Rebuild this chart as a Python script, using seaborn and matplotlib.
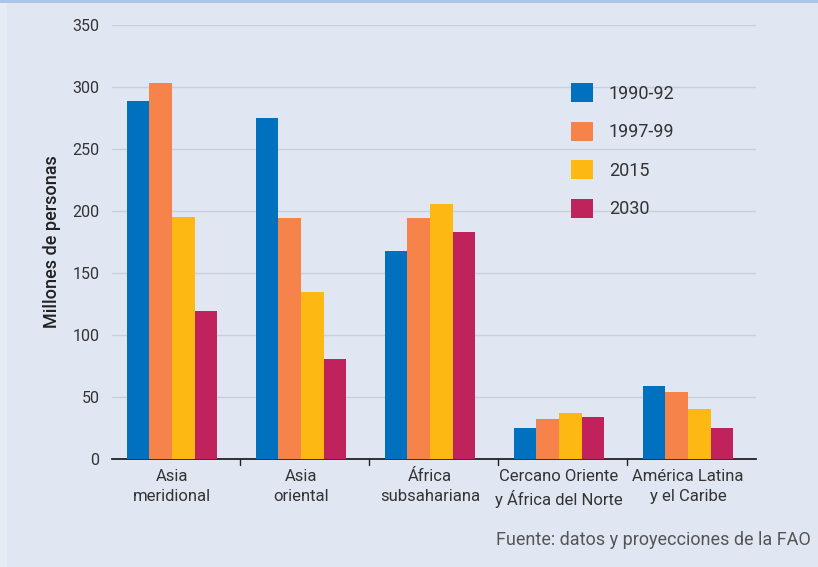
import matplotlib
matplotlib.use("Agg")
import matplotlib.pyplot as plt
import seaborn as sns
import pandas as pd
from matplotlib.patches import Rectangle, Patch

regions = ["Asia\nmeridional", "Asia\noriental", "África\nsubsahariana",
           "Cercano Oriente\ny África del Norte", "América Latina\ny el Caribe"]
periods = ["1990-92", "1997-99", "2015", "2030"]
v_1990 = [289, 275, 168, 25, 59]
v_1997 = [303, 194, 194, 32, 54]
v_2015 = [195, 135, 206, 37, 40]
v_2030 = [119, 81, 183, 34, 25]
colors = ["#0071bf", "#f5834a", "#fdb813", "#c0225c"]
yticks = [0, 50, 100, 150, 200, 250, 300, 350]

rows = []
for p, vals in zip(periods, [v_1990, v_1997, v_2015, v_2030]):
    for r, v in zip(regions, vals):
        rows.append({"region": r, "period": p, "value": v})
df = pd.DataFrame(rows)

sns.set_theme(style="white")
plt.rcParams["font.family"] = ["Roboto", "DejaVu Sans"]

bg = "#e0e7f3"
fig = plt.figure(figsize=(8.18, 5.67), dpi=100, facecolor=bg)
W, H = 818, 567
ax = fig.add_axes([112 / W, (H - 459) / H, (756 - 112) / W, (459 - 25) / H])
ax.set_facecolor(bg)

sns.barplot(data=df, x="region", y="value", hue="period", order=regions,
            hue_order=periods, palette=colors, width=0.705, gap=0,
            saturation=1, ax=ax, legend=False, zorder=3)
for p in ax.patches:
    p.set_edgecolor("none")
    p.set_linewidth(0)

ax.set_ylim(0, 350)
ax.set_xlim(-0.465, 4.527)
ax.set_yticks(yticks)
ax.yaxis.grid(True, color="#c9d0db", linewidth=1, zorder=0)
ax.set_axisbelow(True)
for s in ["top", "right", "left"]:
    ax.spines[s].set_visible(False)
ax.spines["bottom"].set_color("#222222")
ax.spines["bottom"].set_linewidth(1.3)
ax.tick_params(axis="y", length=6, color="#c9d0db", labelsize=11.5,
               labelcolor="#333333", pad=3)
ax.set_xticks(range(len(regions)))
ax.set_xticklabels(regions, fontsize=12, color="#333333", linespacing=1.42)
ax.tick_params(axis="x", length=0, pad=7)
for xb in [0.53, 1.53, 2.53, 3.53]:
    ax.plot([xb, xb], [0, -5], color="#222222", lw=1, clip_on=False,
            transform=ax.transData)
ax.set_xlabel("")
ax.set_ylabel("Millones de personas", fontsize=13, color="#222222",
              fontweight="medium", labelpad=8)

handles = [Patch(facecolor=c, edgecolor="none") for c in colors]
leg = ax.legend(handles, periods, loc="upper left",
                bbox_to_anchor=((555 - 112) / (756 - 112), (459 - 67) / 434),
                frameon=False, fontsize=13, handlelength=1.22, handleheight=1.22,
                labelspacing=1.06, handletextpad=0.85, labelcolor="#333333")

fig.text(811 / W, 1 - 540 / H, "Fuente: datos y proyecciones de la FAO",
         ha="right", va="center", fontsize=13, color="#555555")

fig.patches.append(Rectangle((0, 1 - 3 / H), 1, 3 / H, transform=fig.transFigure,
                             facecolor="#a9c5e8", edgecolor="none", zorder=5))
fig.patches.append(Rectangle((0, 0), 7 / W, 1 - 3 / H, transform=fig.transFigure,
                             facecolor="#e6ecf6", edgecolor="none", zorder=5))

fig.savefig("out.png", dpi=100, facecolor=bg)
